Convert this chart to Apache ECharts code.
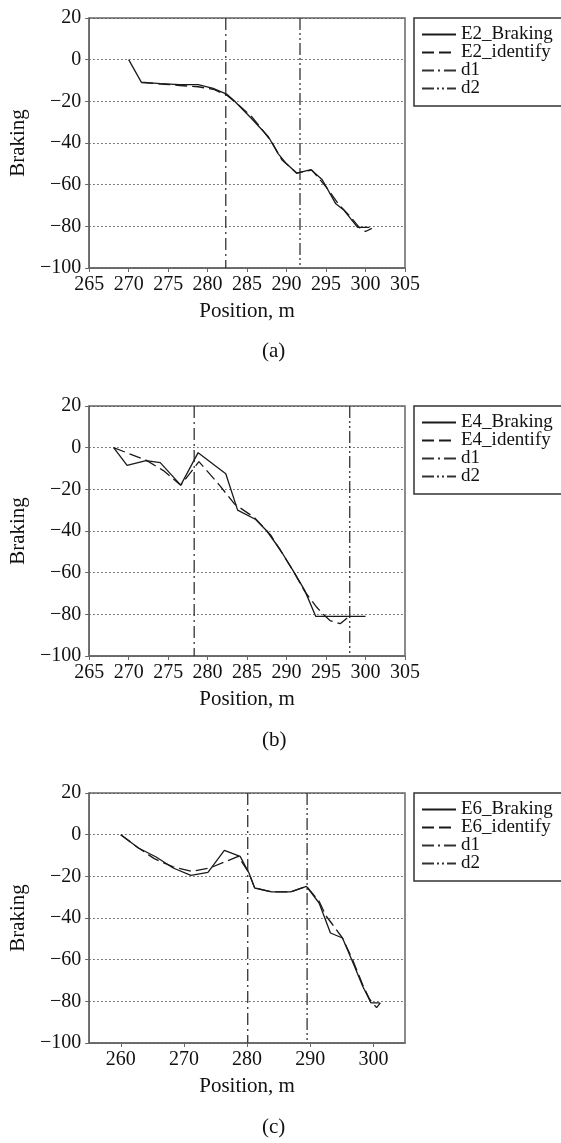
<!DOCTYPE html>
<html>
<head>
    <meta charset="utf-8">
    <title>Braking vs position</title>
    <script src="https://cdn.jsdelivr.net/npm/echarts/dist/echarts.min.js"></script>
</head>
<body style="margin:0;background:#fff;">
    <div id="chart" style="width: 561px; height: 1143px;"></div>

    <script type="text/javascript">
        // data
        var captions = ['(a)', '(b)', '(c)'];
        var runs = ['E2', 'E4', 'E6'];

        // (a) E2
        var posA_brk = [270.0, 271.6, 274.0, 276.5, 278.8, 280.7, 282.4, 283.3, 285.5, 287.7, 288.9, 290.0, 291.3, 293.1, 294.5, 296.2, 297.2, 299.0, 300.5];
        var valA_brk = [0, -10.8, -11.5, -12, -12, -13.8, -16.5, -19.5, -28, -37, -45, -50, -54.5, -52.8, -57.5, -69, -72, -80.5, -80.5];
        var posA_idf = [271.6, 274.5, 276.5, 278.8, 280.7, 282.4, 284.0, 285.5, 286.8, 288.2, 289.4, 291.3, 293.2, 294.0, 295.2, 296.6, 298.0, 299.2, 300.0, 300.8];
        var valA_idf = [-11, -11.8, -12.4, -13, -14.2, -17, -22, -27, -33, -40, -48, -54.5, -53, -56.5, -62, -69.5, -75, -80.5, -82.5, -81];
        var dA = [282.3, 291.7];

        // (b) E4
        var posB_brk = [268.1, 269.8, 272.2, 274.0, 276.6, 278.8, 282.3, 283.8, 286.1, 287.5, 289.2, 290.9, 292.3, 293.7, 300.0];
        var valB_brk = [0, -8.5, -6.2, -7.2, -18, -2.4, -12.5, -30, -34.5, -40, -49, -59.5, -68.5, -81, -81];
        var posB_idf = [268.1, 272.2, 274.4, 276.6, 278.9, 281.5, 283.4, 285.9, 288.0, 290.9, 292.3, 293.8, 294.5, 295.5, 296.8, 297.9];
        var valB_idf = [0, -6, -11, -18, -6.7, -18, -27, -33.5, -42, -59.5, -69, -76.5, -79.5, -83, -84.5, -81];
        var dB = [278.3, 298.0];

        // (c) E6
        var posC_brk = [260.0, 262.8, 265.6, 268.3, 271.1, 273.8, 276.4, 278.9, 280.3, 281.2, 283.9, 286.9, 289.4, 291.4, 293.2, 295.1, 297.0, 298.3, 299.6, 301.0];
        var valC_brk = [0, -6.4, -10.7, -16, -19.5, -18.1, -7.5, -10.4, -18.4, -25.6, -27.5, -27.5, -24.8, -32.8, -47.2, -49.6, -63.2, -72.8, -80.7, -80.7];
        var posC_idf = [260.0, 262.8, 265.3, 268.3, 271.3, 274.1, 278.6, 280.3, 281.2, 283.9, 286.9, 289.4, 291.4, 292.5, 293.5, 295.1, 296.7, 298.3, 299.4, 300.5, 301.1];
        var valC_idf = [0, -6.4, -11.5, -15.5, -17.6, -16, -10.4, -18.4, -25.6, -27.5, -27.5, -24.8, -32, -39, -43, -49.6, -60, -72, -79, -83, -80.7];
        var dC = [280.1, 289.5];

        var xRanges = [[265, 305], [265, 305], [255, 305]];
        var xTicksC = [260, 270, 280, 290, 300];
        var yMin = -100, yMax = 20;

        var brk = [[posA_brk, valA_brk], [posB_brk, valB_brk], [posC_brk, valC_brk]];
        var idf = [[posA_idf, valA_idf], [posB_idf, valB_idf], [posC_idf, valC_idf]];
        var dLines = [dA, dB, dC];

        function pairs(xs, ys) {
            return xs.map(function (x, i) { return [x, ys[i]]; });
        }

        var chart = echarts.init(document.getElementById('chart'));
        var font = 'Liberation Serif';
        var tops = [18, 406, 793];
        var capTops = [341, 730, 1117];

        var grids = [], xAxes = [], yAxes = [], series = [], legends = [], graphics = [];

        for (var i = 0; i < 3; i++) {
            grids.push({
                left: 73, top: tops[i], width: 332, height: 250,
                show: true, borderColor: '#666', borderWidth: 1.5, containLabel: false
            });

            var xa = {
                type: 'value', gridIndex: i,
                min: xRanges[i][0], max: xRanges[i][1],
                name: 'Position, m', nameLocation: 'middle', nameGap: 33,
                nameTextStyle: { fontFamily: font, fontSize: 21, color: '#111' },
                axisLine: { show: true, onZero: false, lineStyle: { color: '#666', width: 1.5 } },
                axisTick: { show: true, length: 4, lineStyle: { color: '#666' } },
                axisLabel: { fontFamily: font, fontSize: 20, color: '#111', margin: 7 },
                splitLine: { show: false }
            };
            if (i === 2) {
                xa.axisLabel.customValues = xTicksC;
                xa.axisTick.customValues = xTicksC;
            } else {
                xa.interval = 5;
            }
            xAxes.push(xa);

            yAxes.push({
                type: 'value', gridIndex: i,
                min: yMin, max: yMax, interval: 20,
                name: 'Braking', nameLocation: 'middle', nameGap: 46,
                nameTextStyle: { fontFamily: font, fontSize: 21, color: '#111' },
                axisLine: { show: true, lineStyle: { color: '#666', width: 1.5 } },
                axisTick: { show: true, length: 4, lineStyle: { color: '#666' } },
                axisLabel: {
                    fontFamily: font, fontSize: 20, color: '#111', margin: 8,
                    formatter: function (v) { return String(v).replace('-', '\u2212'); }
                },
                splitLine: { show: true, lineStyle: { color: '#555', type: [1.5, 2.5], width: 1 } }
            });

            var nmB = runs[i] + '_Braking';
            var nmI = runs[i] + '_identify';

            series.push({
                name: nmB, type: 'line', xAxisIndex: i, yAxisIndex: i,
                data: pairs(brk[i][0], brk[i][1]),
                symbol: 'none', lineStyle: { color: '#1a1a1a', width: 1.3, type: 'solid' },
                itemStyle: { color: '#1a1a1a' }, z: 4
            });
            series.push({
                name: nmI, type: 'line', xAxisIndex: i, yAxisIndex: i,
                data: pairs(idf[i][0], idf[i][1]),
                symbol: 'none', lineStyle: { color: '#1a1a1a', width: 1.3, type: [12, 5] },
                itemStyle: { color: '#1a1a1a' }, z: 4
            });
            series.push({
                name: 'd1', type: 'line', xAxisIndex: i, yAxisIndex: i,
                data: [[dLines[i][0], yMax], [dLines[i][0], yMin]],
                symbol: 'none', lineStyle: { color: '#333', width: 1.3, type: [12, 4, 2, 4] },
                itemStyle: { color: '#333' }, z: 3
            });
            series.push({
                name: 'd2', type: 'line', xAxisIndex: i, yAxisIndex: i,
                data: [[dLines[i][1], yMax], [dLines[i][1], yMin]],
                symbol: 'none', lineStyle: { color: '#333', width: 1.3, type: [12, 3, 2, 3, 2, 3] },
                itemStyle: { color: '#333' }, z: 3
            });

            legends.push({
                data: [nmB, nmI, 'd1', 'd2'],
                orient: 'vertical', left: 414, top: tops[i],
                padding: [7, 60, 8, 7],
                itemGap: -1, itemWidth: 34, itemHeight: 14,
                itemStyle: { opacity: 0 },
                borderColor: '#333', borderWidth: 1.5, backgroundColor: '#fff',
                selectedMode: false,
                textStyle: { fontFamily: font, fontSize: 19, color: '#111' }
            });

            graphics.push({
                type: 'text', left: 262, top: capTops[i],
                style: { text: captions[i], font: '21px "Liberation Serif"', fill: '#111' }
            });
        }

        var option = {
            animation: false,
            backgroundColor: '#fff',
            grid: grids,
            xAxis: xAxes,
            yAxis: yAxes,
            legend: legends,
            series: series,
            graphic: graphics
        };

        chart.setOption(option);
    </script>
</body>
</html>
